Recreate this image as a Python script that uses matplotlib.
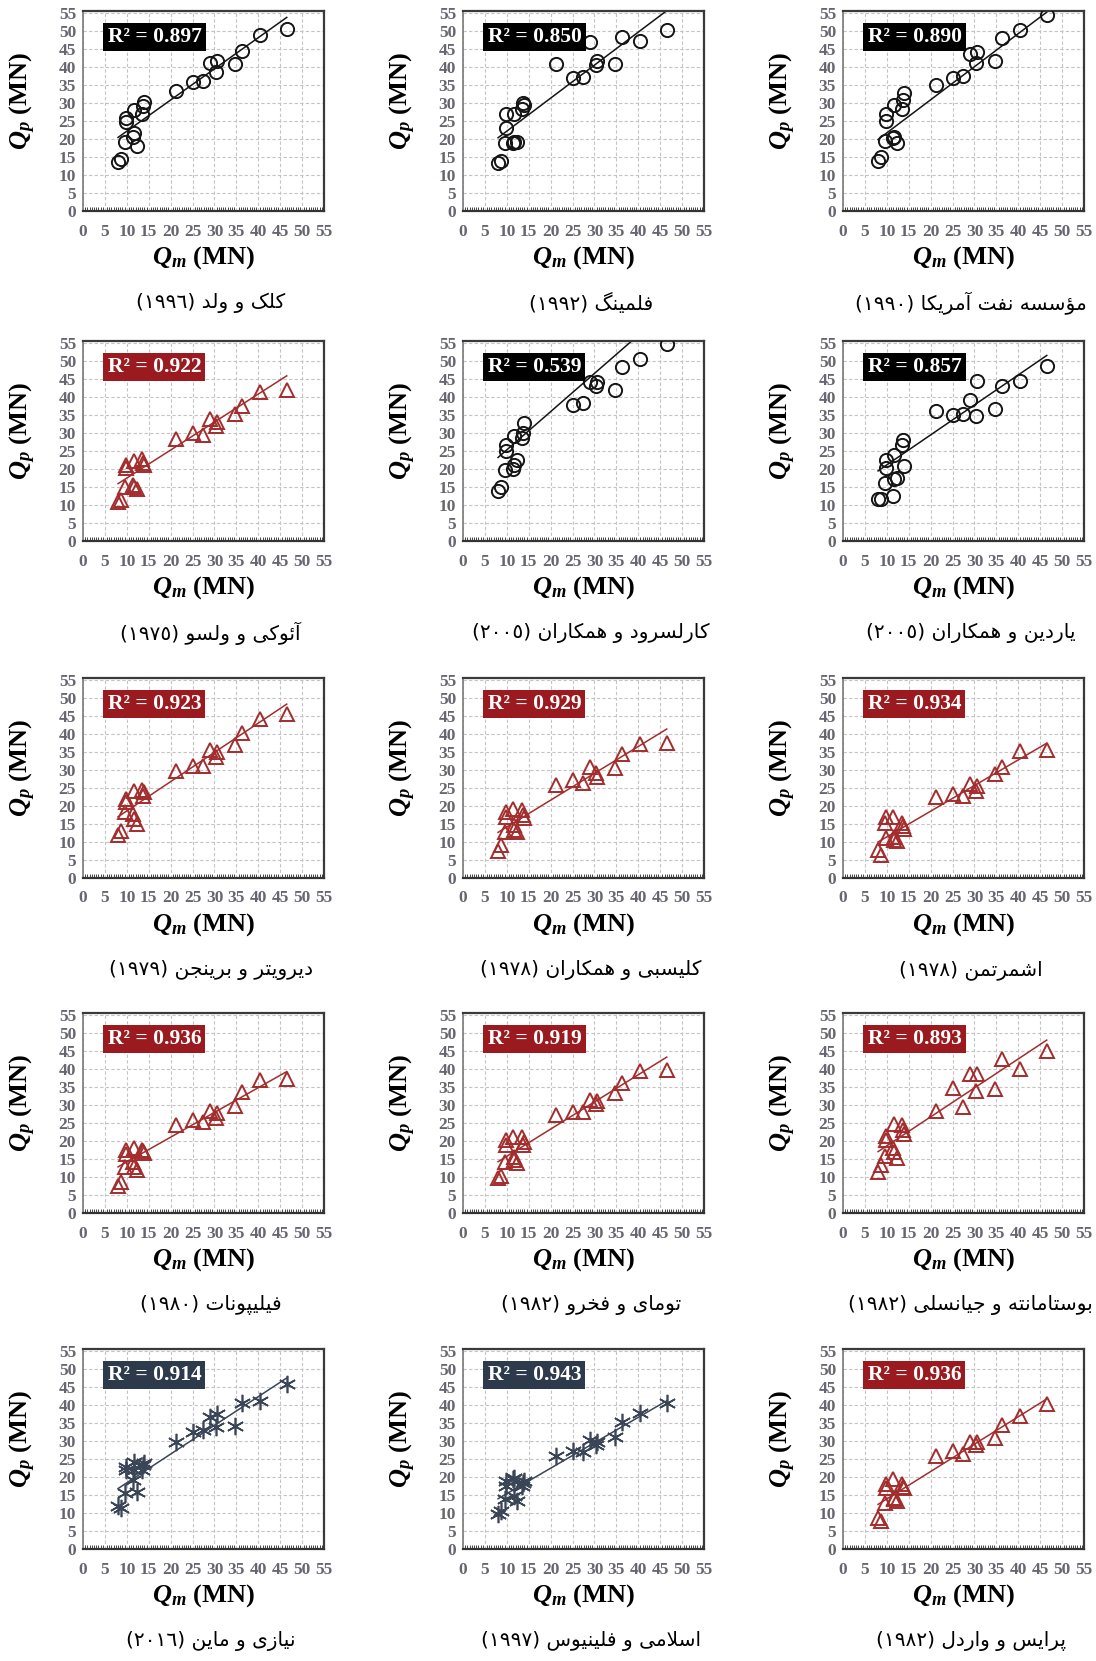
import numpy as np
import matplotlib
matplotlib.use("Agg")
import matplotlib.pyplot as plt
from matplotlib.ticker import MultipleLocator

plt.rcParams["mathtext.fontset"] = "custom"
plt.rcParams["mathtext.rm"] = "Liberation Serif:bold"
plt.rcParams["mathtext.it"] = "Liberation Serif:italic:bold"
plt.rcParams["mathtext.bf"] = "Liberation Serif:bold"

# measured capacity (same piles in every panel)
qm = [8.0, 8.6, 9.6, 9.8, 9.9, 11.3, 11.6, 11.7, 12.4, 13.5, 13.7, 13.9,
      21.2, 25.2, 27.3, 29.0, 30.4, 30.5, 34.6, 36.4, 40.4, 46.5]

# predicted capacity per method
qp_clisby = [13.6, 14.5, 19.1, 24.7, 25.9, 20.5, 21.6, 27.9, 18.0, 27.0, 29.0, 30.2,
             33.3, 35.8, 36.0, 41.1, 38.5, 41.6, 40.8, 44.5, 48.9, 50.5]
qp_fleming = [13.2, 13.9, 18.8, 23.1, 26.9, 18.9, 19.2, 27.0, 19.2, 28.3, 30.1, 29.5,
              40.8, 37.0, 37.2, 47.0, 40.5, 41.7, 40.8, 48.3, 47.3, 50.2]
qp_api = [14.0, 15.1, 19.4, 25.0, 26.8, 20.3, 20.6, 29.4, 18.8, 28.3, 30.8, 32.7,
          34.9, 37.0, 37.5, 43.7, 41.1, 44.2, 41.6, 48.1, 50.2, 54.5]
qp_aoki = [10.9, 11.5, 15.1, 20.2, 21.1, 15.5, 22.3, 15.1, 14.3, 22.7, 21.7, 21.1,
           28.3, 30.1, 29.5, 33.8, 31.8, 32.9, 35.3, 37.5, 41.3, 42.0]
qp_karlsrud = [13.8, 15.0, 19.8, 25.1, 26.7, 20.0, 21.2, 29.2, 22.6, 28.6, 30.0, 32.7,
               np.nan, 37.8, 38.4, 44.2, 42.9, 44.2, 41.9, 48.2, 50.4, 54.7]
qp_jardine = [11.6, 11.6, 16.0, 20.2, 22.5, 12.6, 17.1, 23.9, 17.4, 26.6, 28.0, 20.8,
              36.1, 34.9, 35.3, 39.0, 34.6, 44.5, 36.7, 43.1, 44.3, 48.6]
qp_deruiter = [11.8, 13.0, 18.4, 21.0, 21.9, 17.7, 16.5, 24.2, 15.1, 24.5, 22.8, 23.8,
               29.8, 31.2, 31.2, 35.4, 33.5, 34.9, 36.8, 40.1, 44.1, 45.4]
qp_clisby78 = [7.5, 9.2, 12.9, 17.0, 18.2, 19.1, 14.7, 13.3, 12.9, 18.9, 17.5, 16.7,
               25.8, 27.1, 26.5, 30.8, 29.0, 28.1, 30.5, 34.5, 37.3, 37.5]
qp_schmertmann = [7.7, 6.5, 15.4, 16.8, 11.2, 17.0, 10.5, 11.4, 10.3, 15.4, 14.5, 13.5,
                  22.5, 23.4, 22.8, 26.0, 24.1, 25.5, 28.9, 30.8, 35.2, 35.4]
qp_philipponnat = [7.5, 8.7, 12.8, 16.5, 17.4, 14.2, 17.9, 12.8, 11.9, 17.6, 17.2, 16.7,
                   24.3, 25.7, 25.2, 28.4, 26.4, 27.7, 29.8, 33.5, 36.9, 37.2]
qp_tumay = [9.6, 10.3, 14.2, 18.8, 20.2, 21.1, 14.7, 15.6, 13.8, 21.1, 18.8, 19.7,
            27.1, 28.0, 28.0, 31.4, 30.3, 31.2, 33.2, 36.2, 39.4, 39.6]
qp_bustamante = [11.5, 13.3, 15.8, 21.3, 20.2, 17.9, 24.8, 17.0, 15.4, 24.3, 22.9, 22.0,
                 28.4, 34.8, 29.4, 38.5, 33.9, 38.5, 34.4, 42.7, 39.9, 44.9]
qp_niazi = [11.9, 11.4, 15.5, 21.9, 22.8, 19.2, 24.2, 21.9, 15.7, 21.9, 23.3, 23.9,
            29.7, 32.4, 32.9, 36.7, 33.8, 37.6, 34.2, 40.4, 41.1, 45.7]
qp_eslami = [9.6, 10.6, 13.8, 17.6, 18.8, 19.3, 14.7, 19.7, 13.3, 17.4, 18.3, 18.8,
             25.7, 27.3, 26.8, 30.3, 28.9, 29.8, 31.2, 35.3, 37.8, 40.4]
qp_price = [8.5, 7.8, 12.8, 17.0, 18.1, 19.3, 13.8, 14.2, 13.3, 17.9, 17.2, 16.8,
            25.7, 27.1, 26.3, 29.8, 28.9, 29.8, 30.7, 34.4, 37.0, 40.1]

# panels in reading order (left to right, top to bottom)
names = ["کلک و ولد", "فلمینگ", "مؤسسه نفت آمریکا",
         "آئوکی و ولسو", "کارلسرود و همکاران", "یاردین و همکاران",
         "دیرویتر و برینجن", "کلیسبی و همکاران", "اشمرتمن",
         "فیلیپونات", "تومای و فخرو", "بوستامانته و جیانسلی",
         "نیازی و ماین", "اسلامی و فلینیوس", "پرایس و واردل"]
years = ["1996", "1992", "1990", "1975", "2005", "2005", "1979", "1978", "1978",
         "1980", "1982", "1982", "2016", "1997", "1982"]
r2 = ["0.897", "0.850", "0.890", "0.922", "0.539", "0.857", "0.923", "0.929", "0.934",
      "0.936", "0.919", "0.893", "0.914", "0.943", "0.936"]
styles = ["circle", "circle", "circle", "tri", "circle", "circle", "tri", "tri", "tri",
          "tri", "tri", "tri", "star", "star", "tri"]
qp_all = [qp_clisby, qp_fleming, qp_api, qp_aoki, qp_karlsrud, qp_jardine,
          qp_deruiter, qp_clisby78, qp_schmertmann, qp_philipponnat, qp_tumay,
          qp_bustamante, qp_niazi, qp_eslami, qp_price]
# trend lines (slope, intercept)
slopes = [0.865, 0.916, 0.918, 0.777, 1.06, 0.832, 0.812, 0.745, 0.712,
          0.687, 0.754, 0.804, 0.797, 0.706, 0.76]
intercepts = [13.5, 13.0, 12.5, 9.7, 14.7, 12.8, 10.5, 6.7, 4.3,
              7.3, 8.2, 10.6, 10.4, 8.3, 6.3]

# simple Arabic/Persian shaping (matplotlib does no contextual shaping)
FORMS = {
    "ا": ("\uFE8D", "\uFE8E", None, None), "آ": ("\uFE81", "\uFE82", None, None),
    "ؤ": ("\uFE85", "\uFE86", None, None), "د": ("\uFEA9", "\uFEAA", None, None),
    "ر": ("\uFEAD", "\uFEAE", None, None), "ز": ("\uFEAF", "\uFEB0", None, None),
    "و": ("\uFEED", "\uFEEE", None, None), "\uFEFB": ("\uFEFB", "\uFEFC", None, None),
    "ئ": ("\uFE89", "\uFE8A", "\uFE8B", "\uFE8C"), "ب": ("\uFE8F", "\uFE90", "\uFE91", "\uFE92"),
    "پ": ("\uFB56", "\uFB57", "\uFB58", "\uFB59"), "ت": ("\uFE95", "\uFE96", "\uFE97", "\uFE98"),
    "ج": ("\uFE9D", "\uFE9E", "\uFE9F", "\uFEA0"), "خ": ("\uFEA5", "\uFEA6", "\uFEA7", "\uFEA8"),
    "س": ("\uFEB1", "\uFEB2", "\uFEB3", "\uFEB4"), "ش": ("\uFEB5", "\uFEB6", "\uFEB7", "\uFEB8"),
    "ف": ("\uFED1", "\uFED2", "\uFED3", "\uFED4"), "ک": ("\uFB8E", "\uFB8F", "\uFB90", "\uFB91"),
    "گ": ("\uFB92", "\uFB93", "\uFB94", "\uFB95"), "ل": ("\uFEDD", "\uFEDE", "\uFEDF", "\uFEE0"),
    "م": ("\uFEE1", "\uFEE2", "\uFEE3", "\uFEE4"), "ن": ("\uFEE5", "\uFEE6", "\uFEE7", "\uFEE8"),
    "ه": ("\uFEE9", "\uFEEA", "\uFEEB", "\uFEEC"), "ی": ("\uFBFC", "\uFBFD", "\uFBFE", "\uFBFF"),
}


def shape_rtl(text):
    text = text.replace("لا", "\uFEFB")
    out = []
    for i, ch in enumerate(text):
        if ch not in FORMS:
            out.append(ch)
            continue
        f = FORMS[ch]
        prev = text[i - 1] if i > 0 else ""
        nxt = text[i + 1] if i < len(text) - 1 else ""
        jp = prev in FORMS and FORMS[prev][2] is not None
        jn = nxt in FORMS and f[2] is not None
        if jp and jn:
            out.append(f[3])
        elif jp:
            out.append(f[1])
        elif jn:
            out.append(f[2])
        else:
            out.append(f[0])
    return "".join(out)[::-1]


def caption(name, year):
    digits = "".join(chr(0x660 + int(d)) for d in year)
    return "(" + digits + ") " + shape_rtl(name)


STYLE = {
    "circle": dict(marker="o", color="#151515", box="#000000", ms=9.5, mew=1.4),
    "tri": dict(marker="^", color="#a32d2d", box="#9a1a1f", ms=10.5, mew=1.4),
    "star": dict(marker=(6, 2, 0), color="#3a4557", box="#2c3a4c", ms=12.5, mew=1.2),
}

W, H = 1096, 1661
fig = plt.figure(figsize=(W / 100, H / 100), dpi=100)

col_left = [83, 463, 843]
row_top = [11, 341, 678, 1013, 1349]
aw, ah = 241, 200

for k in range(15):
    r, c = divmod(k, 3)
    ax = fig.add_axes([col_left[c] / W, 1 - (row_top[r] + ah) / H, aw / W, ah / H])
    st = STYLE[styles[k]]

    ax.set_xlim(0, 55)
    ax.set_ylim(0, 55.5)
    ax.xaxis.set_major_locator(MultipleLocator(5))
    ax.yaxis.set_major_locator(MultipleLocator(5))
    ax.xaxis.set_minor_locator(MultipleLocator(0.5))
    ax.grid(True, which="major", color="#c4c4c4", linestyle=(0, (3, 2)), linewidth=0.8)
    ax.set_axisbelow(True)
    for side in ["top", "right"]:
        ax.spines[side].set_color("#3a3a3a")
        ax.spines[side].set_linewidth(1.6)
    ax.spines["left"].set_color("#7a7a7a")
    ax.spines["left"].set_linewidth(1.2)
    ax.spines["bottom"].set_color("#333333")
    ax.spines["bottom"].set_linewidth(1.6)
    ax.tick_params(which="major", length=0, labelsize=12.5, labelcolor="#666670")
    ax.tick_params(axis="x", which="major", pad=9)
    ax.tick_params(axis="y", which="major", pad=5)
    ax.tick_params(axis="x", which="minor", direction="in", length=3, width=0.7,
                   color="#444444")
    for lab in ax.get_xticklabels() + ax.get_yticklabels():
        lab.set_fontfamily("Liberation Serif")
        lab.set_fontweight("bold")

    x = np.array(qm)
    y = np.array(qp_all[k])
    xl = np.array([x.min(), x.max()])
    ax.plot(xl, slopes[k] * xl + intercepts[k], color=st["color"], lw=1.1, zorder=2)
    ax.plot(x, y, linestyle="none", marker=st["marker"], ms=st["ms"],
            markerfacecolor="none", markeredgecolor=st["color"],
            markeredgewidth=st["mew"], zorder=3)

    ax.text(5.6, 48.3, "R² = " + r2[k], fontsize=15.5, fontweight="bold",
            family="Liberation Serif", color="white", ha="left", va="center",
            bbox=dict(boxstyle="square,pad=0.2", fc=st["box"], ec="none"), zorder=4)

    ax.text(-0.25, 0.55, r"$Q_p$ (MN)", transform=ax.transAxes, rotation=90,
            ha="center", va="center", fontsize=19, fontweight="bold",
            family="Liberation Serif")
    ax.text(0.5, -0.235, r"$Q_m$ (MN)", transform=ax.transAxes,
            ha="center", va="center", fontsize=19, fontweight="bold",
            family="Liberation Serif")
    ax.text(0.53, -0.46, caption(names[k], years[k]), transform=ax.transAxes,
            ha="center", va="center", fontsize=14.5, family=["DejaVu Sans"])

fig.savefig("out.png", dpi=100)
